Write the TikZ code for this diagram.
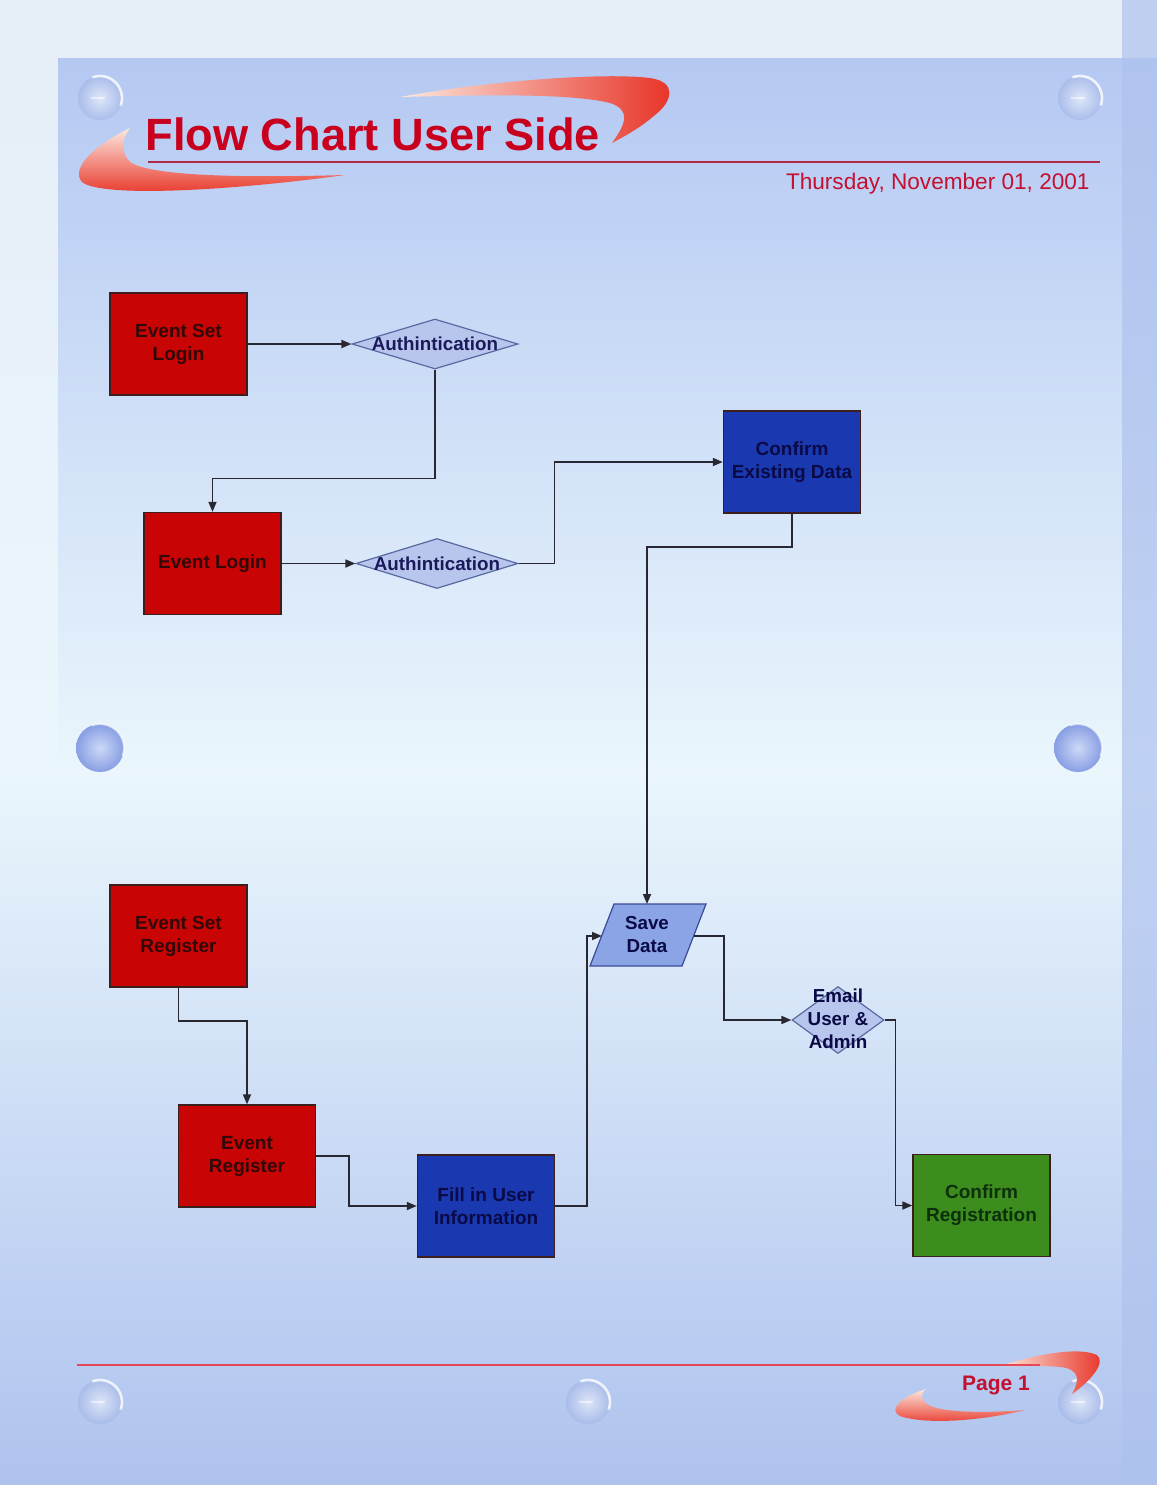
\documentclass[tikz,border=0pt]{standalone}
\usepackage{fontspec}
\setmainfont{Liberation Sans}
\usetikzlibrary{shapes.geometric,arrows.meta}
\definecolor{boxred}{RGB}{200,4,4}
\definecolor{txtred}{RGB}{50,8,8}
\definecolor{boxblue}{RGB}{26,56,176}
\definecolor{txtblue}{RGB}{10,10,70}
\definecolor{boxgreen}{RGB}{60,140,30}
\definecolor{txtgreen}{RGB}{12,48,12}
\definecolor{diafill}{RGB}{184,198,238}
\definecolor{diaborder}{RGB}{88,104,160}
\definecolor{diatext}{RGB}{26,26,90}
\definecolor{sdfill}{RGB}{138,164,230}
\definecolor{sdborder}{RGB}{58,74,154}
\definecolor{connc}{RGB}{40,40,50}
\definecolor{boxborder}{RGB}{60,30,30}
\definecolor{titlered}{RGB}{200,0,30}
\definecolor{daterred}{RGB}{196,16,48}
\definecolor{rulered}{RGB}{176,40,72}
\definecolor{rule2red}{RGB}{230,72,88}
\definecolor{bgpale}{RGB}{230,238,248}
\definecolor{bgtop}{RGB}{180,200,242}
\definecolor{bgmid}{RGB}{234,246,252}
\definecolor{bgbot}{RGB}{174,194,238}
\definecolor{bubblec}{RGB}{160,178,228}
\definecolor{bubblemid}{RGB}{120,144,224}
\definecolor{swred}{RGB}{232,48,36}
\definecolor{swpale}{RGB}{252,232,222}
\tikzset{
  box/.style={rectangle, draw=boxborder, line width=0.7pt, minimum width=68.5pt,
    minimum height=51pt, align=center, inner sep=0pt,
    font=\fontsize{9.5}{11.5}\selectfont\bfseries},
  redbox/.style={box, fill=boxred, text=txtred},
  bluebox/.style={box, fill=boxblue, text=txtblue},
  greenbox/.style={box, fill=boxgreen, text=txtgreen},
  dia/.style={diamond, draw=diaborder, fill=diafill, line width=0.6pt, inner sep=0pt},
  diatxt/.style={align=center, inner sep=0pt, text=diatext,
    font=\fontsize{9.4}{11.5}\selectfont\bfseries},
  conn/.style={draw=connc, line width=0.85pt, -{Triangle[length=5pt,width=4pt]}},
}
\begin{document}
\begin{tikzpicture}[x=0.5pt,y=-0.5pt]
\useasboundingbox (0,0) rectangle (1157,1485);
% background
\fill[bgpale] (0,0) rectangle (1157,1485);
\shade[top color=bgpale, bottom color=bgbot, middle color=bgmid] (0,58) rectangle (58,1485);
\shade[top color=bgtop, bottom color=bgbot, middle color=bgmid] (58,58) rectangle (1157,1485);
\fill[bgbot, opacity=0.7] (1122,0) rectangle (1157,1485);

% bubbles
\foreach \bx/\by/\br in {100/98/22, 1080/98/22, 100/1402/22, 588/1402/22, 1080/1402/22}{
  \shade[inner color=white, outer color=bubblec, opacity=0.55] (\bx,\by) circle (\br);
  \draw[white, opacity=0.8, line width=1.3pt] (\bx,\by) ++(20:\br) arc (20:-110:\br);
  \draw[white, opacity=0.5, line width=0.6pt] (\bx,\by) ++(-9,0) -- ++(14,0);
}
\foreach \bx/\by in {100/748, 1078/748}{
  \shade[inner color={rgb,255:red,200;green,212;blue,245}, outer color=bubblemid, opacity=0.85] (\bx,\by) circle (24);
  \draw[white, opacity=0.6, line width=1pt] (\bx,\by) ++(20:24) arc (20:-110:24);
}

% swooshes
\shade[top color=swpale, bottom color=swred]
  (130,128) .. controls (95,145) and (70,168) .. (82,182)
  .. controls (100,197) and (220,192) .. (345,175)
  .. controls (240,178) and (150,176) .. (130,162)
  .. controls (120,152) and (122,138) .. (130,128) -- cycle;
\shade[left color=swpale, right color=swred]
  (400,97) .. controls (480,82) and (600,72) .. (650,78)
  .. controls (678,82) and (672,102) .. (655,115)
  .. controls (640,128) and (625,136) .. (612,143)
  .. controls (625,125) and (632,110) .. (610,103)
  .. controls (570,93) and (480,95) .. (400,97) -- cycle;
\shade[left color=swpale, right color=swred]
  (1000,1366) .. controls (1040,1353) and (1080,1347) .. (1097,1355)
  .. controls (1106,1362) and (1092,1380) .. (1072,1394)
  .. controls (1080,1380) and (1080,1369) .. (1060,1367)
  .. controls (1040,1365) and (1020,1367) .. (1000,1366) -- cycle;
\shade[top color=swpale, bottom color=swred]
  (926,1389) .. controls (900,1397) and (888,1410) .. (900,1416)
  .. controls (930,1426) and (990,1419) .. (1025,1410)
  .. controls (990,1413) and (942,1413) .. (929,1405)
  .. controls (920,1400) and (920,1394) .. (926,1389) -- cycle;

% header / footer
\draw[rulered, line width=0.8pt] (148,162) -- (1100,162);
\draw[rule2red, line width=0.9pt] (77,1365) -- (1040,1365);
\node[anchor=base west, inner sep=0pt, text=titlered, font=\fontsize{22.6}{26}\selectfont\bfseries] (title) at (145,150) {Flow Chart User Side};
\node[anchor=base east, inner sep=0pt, text=daterred, font=\fontsize{11.3}{13}\selectfont] (date) at (1090,189) {Thursday, November 01, 2001};
\node[inner sep=0pt, text=daterred, font=\fontsize{10.5}{12}\selectfont\bfseries] (page) at (996,1385) {Page 1};

% nodes
\node[redbox] (esl) at (178.5,344) {Event Set\\Login};
\node[dia, minimum width=83pt, minimum height=25pt] (a1) at (435,344) {};
\node[diatxt] (a1t) at (435,344) {Authintication};
\node[redbox] (el) at (212.5,563.5) {Event Login};
\node[dia, minimum width=81pt, minimum height=25pt] (a2) at (437,563.5) {};
\node[diatxt] (a2t) at (437,563.5) {Authintication};
\node[bluebox] (ced) at (792,462) {Confirm\\Existing Data};

\node[redbox] (esr) at (178.5,936) {Event Set\\Register};
\node[redbox] (er) at (247,1156) {Event\\Register};
\node[bluebox] (fui) at (486,1206) {Fill in User\\Information};
\node[greenbox] (cr) at (981.5,1205.5) {Confirm\\Registration};

\draw[fill=sdfill, draw=sdborder, line width=0.6pt] (590,966) -- (682,966) -- (706,904) -- (614,904) -- cycle;
\node[diatxt, text=txtblue] (sd) at (647,935) {Save\\Data};
\coordinate (sdT) at (647,904);
\coordinate (sdL) at (602,936);
\coordinate (sdR) at (694,936);

\node[dia, minimum width=46pt, minimum height=33.5pt] (em) at (838,1020) {};
\node[diatxt, text=txtblue] (emt) at (838,1019) {Email\\User \&\\Admin};

% connectors
\draw[conn] (esl.east) -- (a1.west);
\draw[conn] (a1.south) -- ++(0,109) -| (el.north);
\draw[conn] (el.east) -- (a2.west);
\draw[conn] (a2.east) -- ++(36,0) |- (ced.west);
\draw[conn] (ced.south) -- ++(0,33) -| (sdT);
\draw[conn] (esr.south) -- ++(0,33) -| (er.north);
\draw[conn] (er.east) -- ++(33,0) |- (fui.west);
\draw[conn] (fui.east) -- ++(32,0) |- (sdL);
\draw[conn] (sdR) -- ++(30,0) |- (em.west);
\draw[conn] (em.east) -- ++(11,0) |- (cr.west);
\end{tikzpicture}
\end{document}
